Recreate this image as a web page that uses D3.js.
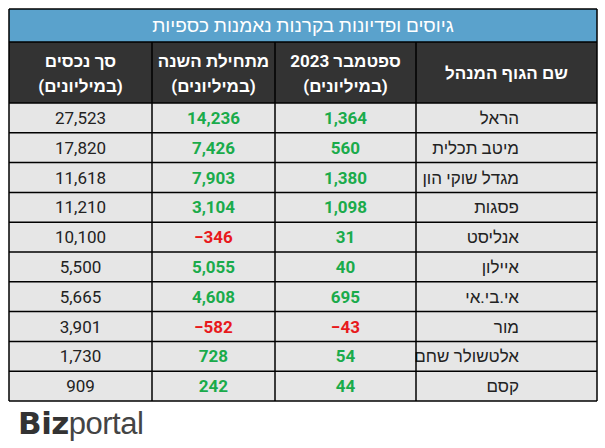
<!DOCTYPE html>
<html><head><meta charset="utf-8">
<script src="https://cdn.jsdelivr.net/npm/d3@7"></script>
<style>body{margin:0;background:#fff}</style>
</head><body>
<svg id="canvas" width="605" height="448"></svg>
<script>
const title = "גיוסים ופדיונות בקרנות נאמנות כספיות"
const managers = ["הראל","מיטב תכלית","מגדל שוקי הון","פסגות","אנליסט","איילון","אי.בי.אי","מור","אלטשולר שחם","קסם"]
const sept2023 = [1364,560,1380,1098,31,40,695,-43,54,44]
const ytd = [14236,7426,7903,3104,-346,5055,4608,-582,728,242]
const assets = [27523,17820,11618,11210,10100,5500,5665,3901,1730,909]
const headers = [["שם הגוף המנהל"],["ספטמבר 2023","(במיליונים)"],["מתחילת השנה","(במיליונים)"],["סך נכסים","(במיליונים)"]]

const svg = d3.select("#canvas")
const left = 9, right = 597
const colEdges = [597, 416, 275, 152, 9]   // right-to-left column borders
const colX = i => colEdges[i]
const y = d3.scaleBand().domain(d3.range(managers.length)).range([103,401])
const fmt = d3.format(",")
const font = "Roboto, 'Noto Sans', sans-serif"

// title band
svg.append("rect").attr("x",left).attr("y",9).attr("width",right-left).attr("height",33).attr("fill","#5aa2cc")
svg.append("text").attr("x",(left+right)/2).attr("y",32).attr("text-anchor","middle")
  .attr("fill","#fff").attr("font-family",font).attr("font-size",19).text(title)

// header
svg.append("rect").attr("x",left).attr("y",42).attr("width",right-left).attr("height",61).attr("fill","#333")
headers.forEach((h,i)=>{
  const cx = (colX(i)+colX(i+1))/2
  const ys = h.length===1 ? [79] : [67,92]
  h.forEach((t,j)=>svg.append("text").attr("x",cx).attr("y",ys[j]).attr("text-anchor","middle")
    .attr("fill","#fff").attr("font-family",font).attr("font-weight","bold").attr("font-size",17).text(t))
})

// rows
svg.append("rect").attr("x",left).attr("y",103).attr("width",right-left).attr("height",298).attr("fill","#e6e6e6")
const colour = v => v<0 ? "#e8191c" : "#1aab4b"
managers.forEach((m,r)=>{
  const cy = y(r)+y.bandwidth()/2+6
  svg.append("text").attr("x",519).attr("y",cy).attr("text-anchor","end")
    .attr("font-family",font).attr("font-size",17).attr("fill","#222").text(m)
  ;[sept2023[r],ytd[r]].forEach((v,k)=>svg.append("text").attr("x",(colX(k+1)+colX(k+2))/2).attr("y",cy)
    .attr("text-anchor","middle").attr("font-family",font).attr("font-weight","bold").attr("font-size",17)
    .attr("fill",colour(v)).text(fmt(v)))
  svg.append("text").attr("x",(colX(3)+colX(4))/2).attr("y",cy).attr("text-anchor","middle")
    .attr("font-family",font).attr("font-size",17).attr("fill","#222").text(fmt(assets[r]))
})

// grid lines
const g = svg.append("g").attr("stroke","#000").attr("stroke-width",1.5)
d3.range(managers.length+1).forEach(r=>{
  const yy = r===managers.length ? 401 : y(r)
  g.append("line").attr("x1",left).attr("x2",right).attr("y1",yy).attr("y2",yy)
})
colEdges.forEach((cx,i)=>g.append("line").attr("x1",cx).attr("x2",cx).attr("y1",i===0||i===4?9:42).attr("y2",401))
g.append("line").attr("x1",left).attr("x2",right).attr("y1",9).attr("y2",9)
g.append("line").attr("x1",left).attr("x2",right).attr("y1",42).attr("y2",42)

// logo
const logo = svg.append("text").attr("x",18).attr("y",434).attr("font-family","'DejaVu Sans', sans-serif")
  .attr("font-size",31).attr("fill","#333").attr("letter-spacing","-0.5")
logo.append("tspan").attr("font-weight","bold").text("Biz")
logo.append("tspan").attr("font-weight","normal").attr("font-family","'Liberation Sans', sans-serif").attr("fill","#444").text("portal")
</script>
</body></html>
